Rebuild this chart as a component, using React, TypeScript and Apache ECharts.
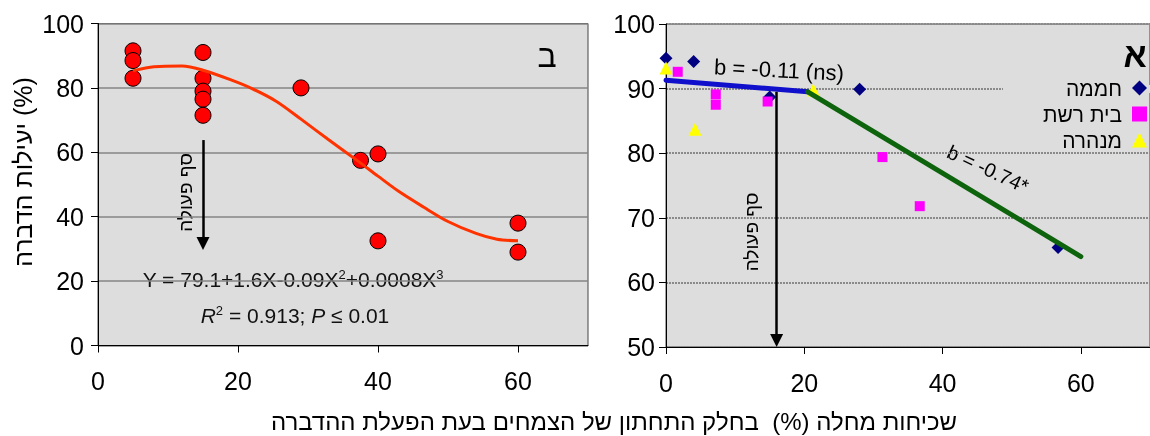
import React, { useEffect, useRef } from "react";
import * as echarts from "echarts";

// ---- Left panel (ב) ----
const leftPointsX = [5, 5, 5, 15, 15, 15, 15, 15, 29, 37.5, 40, 40, 60, 60];
const leftPointsY = [91.5, 88.5, 83, 91, 83, 79, 76.5, 71.5, 80, 57.5, 59.5, 32.5, 38, 29];
const leftCurveX = [5, 8, 12, 15, 19, 22, 25.5, 29, 33, 37, 40, 43, 46.5, 50, 54, 57, 60];
const leftCurveY = [85.3, 86.6, 86.8, 85.5, 82.5, 79.8, 75.8, 70.3, 63.8, 57.5, 52.6, 47.8, 43, 38.5, 34.8, 33, 32.5];
const leftArrowX = 15;
const leftArrowY = [63.8, 31.7];

// ---- Right panel (א) ----
const seriesNames = ["חממה", "בית רשת", "מנהרה"];
const greenhouseX = [0, 4, 15, 28, 56.7];
const greenhouseY = [94.7, 94.2, 88.7, 89.9, 65.4];
const netHouseX = [1.7, 7.2, 7.2, 14.7, 31.3, 36.7];
const netHouseY = [92.6, 89.1, 87.5, 88.0, 79.4, 71.8];
const tunnelX = [0, 4.2, 21.3];
const tunnelY = [93.2, 83.7, 89.8];
const blueTrendX = [0, 20.5];
const blueTrendY = [91.3, 89.5];
const greenTrendX = [20.5, 60];
const greenTrendY = [89.5, 64];
const rightArrowX = 16;
const rightArrowY = [89.5, 51];

const xTicks = [0, 20, 40, 60];

const FONT = "Liberation Sans, Arial, sans-serif";
const zip = (xs: number[], ys: number[]) => xs.map((x, i) => [x, ys[i]]);

export default function App() {
  const ref = useRef<HTMLDivElement>(null);
  useEffect(() => {
    if (!ref.current) return;
    const chart = echarts.init(ref.current, null, { renderer: "svg" });
    const axisCommon = {
      axisLine: { show: true, onZero: false, lineStyle: { color: "#000", width: 1 } },
      axisTick: { show: true, inside: false, length: 7, lineStyle: { color: "#000" } },
    };
    const xAxisBase = (gridIndex: number) => ({
      gridIndex,
      type: "value",
      min: 0,
      max: 70,
      ...axisCommon,
      axisTick: { ...axisCommon.axisTick, customValues: xTicks },
      axisLabel: { customValues: xTicks, fontSize: 25, color: "#000", margin: 23, fontFamily: FONT },
      splitLine: { show: false },
    });
    const arrowMark = (x: number, ys: number[]) => ({
      silent: true,
      symbol: ["none", "triangle"],
      symbolSize: 13,
      label: { show: false },
      lineStyle: { color: "#000", width: 2.5, type: "solid" },
      data: [[{ coord: [x, ys[0]] }, { coord: [x, ys[1]] }]],
    });
    chart.setOption({
      animation: false,
      textStyle: { fontFamily: FONT },
      grid: [
        { left: 98, top: 23.5, width: 490, height: 322, show: true, backgroundColor: "#dddddd", borderColor: "#444", borderWidth: 1 },
        { left: 666, top: 24, width: 496, height: 323, show: true, backgroundColor: "#dddddd", borderColor: "#444", borderWidth: 1 },
      ],
      xAxis: [xAxisBase(0), xAxisBase(1)],
      yAxis: [
        {
          gridIndex: 0, type: "value", min: 0, max: 100, interval: 20,
          ...axisCommon,
          axisLabel: { fontSize: 25, color: "#000", margin: 14, fontFamily: FONT },
          splitLine: { show: true, lineStyle: { color: "#858585", width: 1.5 } },
        },
        {
          gridIndex: 1, type: "value", min: 50, max: 100, interval: 10,
          ...axisCommon,
          axisLabel: { fontSize: 25, color: "#000", margin: 11, fontFamily: FONT },
          splitLine: { show: true, lineStyle: { color: "#8a8a8a", width: 2, type: [2, 1] } },
        },
      ],
      legend: {
        show: true,
        orient: "vertical",
        right: 0,
        top: 77,
        align: "right",
        padding: [0, 3, 0, 0],
        itemWidth: 15,
        itemHeight: 15,
        itemGap: 4,
        textStyle: { fontSize: 21, lineHeight: 22, color: "#000", fontFamily: FONT, padding: [0, 5, 0, 0] },
        data: seriesNames,
      },
      series: [
        {
          type: "scatter", xAxisIndex: 0, yAxisIndex: 0, z: 2,
          symbol: "circle", symbolSize: 16,
          itemStyle: { color: "#ff0000", borderColor: "#000", borderWidth: 1, opacity: 1 },
          data: zip(leftPointsX, leftPointsY),
          markLine: arrowMark(leftArrowX, leftArrowY),
        },
        {
          type: "line", xAxisIndex: 0, yAxisIndex: 0, z: 3, smooth: 0.3,
          showSymbol: false, symbol: "none",
          lineStyle: { color: "#ff3300", width: 3 },
          data: zip(leftCurveX, leftCurveY),
        },
        {
          name: seriesNames[0], type: "scatter", xAxisIndex: 1, yAxisIndex: 1,
          symbol: "diamond", symbolSize: 13,
          itemStyle: { color: "#000080", opacity: 1 },
          data: zip(greenhouseX, greenhouseY),
        },
        {
          name: seriesNames[1], type: "scatter", xAxisIndex: 1, yAxisIndex: 1,
          symbol: "rect", symbolSize: 10,
          itemStyle: { color: "#ff00ff", opacity: 1 },
          data: zip(netHouseX, netHouseY),
        },
        {
          name: seriesNames[2], type: "scatter", xAxisIndex: 1, yAxisIndex: 1,
          symbol: "triangle", symbolSize: 13,
          itemStyle: { color: "#ffff00", opacity: 1 },
          data: zip(tunnelX, tunnelY),
          markLine: arrowMark(rightArrowX, rightArrowY),
        },
        {
          type: "line", xAxisIndex: 1, yAxisIndex: 1, z: 4,
          showSymbol: false, symbol: "none",
          lineStyle: { color: "#1010cc", width: 5, cap: "round" },
          data: zip(blueTrendX, blueTrendY),
        },
        {
          type: "line", xAxisIndex: 1, yAxisIndex: 1, z: 4,
          showSymbol: false, symbol: "none",
          lineStyle: { color: "#0d640d", width: 5, cap: "round" },
          data: zip(greenTrendX, greenTrendY),
        },
      ],
      graphic: [
        { type: "rect", z: 1, silent: true, shape: { x: 1003, y: 85, width: 150, height: 8 }, style: { fill: "#dddddd" } },
        { type: "text", x: 547, y: 56, style: { text: "ב", fontSize: 32, fontFamily: FONT, fill: "#000", align: "center", verticalAlign: "middle" } },
        { type: "text", x: 1135, y: 55, style: { text: "א", fontSize: 34, fontWeight: "bold", fontFamily: FONT, fill: "#000", align: "center", verticalAlign: "middle" } },
        {
          type: "text", x: 293, y: 279,
          style: {
            text: "Y = 79.1+1.6X-0.09X{sup|2}+0.0008X{sup|3}",
            fontSize: 21, fontFamily: FONT, fill: "#111", align: "center", verticalAlign: "middle",
            rich: { sup: { fontSize: 13, verticalAlign: "top", lineHeight: 22, fontFamily: FONT, fill: "#111" } },
          },
        },
        {
          type: "text", x: 295, y: 315,
          style: {
            text: "{i|R}{sup|2} = 0.913; {i|P} {u|≤} 0.01",
            fontSize: 21, fontFamily: FONT, fill: "#111", align: "center", verticalAlign: "middle",
            rich: {
              i: { fontStyle: "italic", fontSize: 21, fontFamily: FONT, fill: "#111" },
              sup: { fontSize: 13, verticalAlign: "top", lineHeight: 22, fontFamily: FONT, fill: "#111" },
              u: { fontSize: 21, fontFamily: FONT, fill: "#111" },
            },
          },
        },
        { type: "text", x: 185.5, y: 192.5, rotation: Math.PI / 2, style: { text: "סף פעולה", fontSize: 19, fontFamily: FONT, fill: "#000", align: "center", verticalAlign: "middle" } },
        { type: "text", x: 751.7, y: 232, rotation: Math.PI / 2, style: { text: "סף פעולה", fontSize: 19, fontFamily: FONT, fill: "#000", align: "center", verticalAlign: "middle" } },
        { type: "text", x: 779, y: 70, rotation: -0.05, style: { text: "b = -0.11 (ns)", fontSize: 22, fontFamily: FONT, fill: "#000", align: "center", verticalAlign: "middle" } },
        { type: "text", x: 988, y: 169, rotation: -0.436, style: { text: "b = -0.74*", fontSize: 20, fontFamily: FONT, fill: "#000", align: "center", verticalAlign: "middle" } },
        { type: "text", x: 22.5, y: 172, rotation: Math.PI / 2, style: { text: "יעילות הדברה (%)", fontSize: 25, fontFamily: FONT, fill: "#000", align: "center", verticalAlign: "middle" } },
        { type: "text", x: 614, y: 421, style: { text: "שכיחות מחלה (%)  בחלק התחתון של הצמחים בעת הפעלת ההדברה", fontSize: 24, fontFamily: FONT, fill: "#000", align: "center", verticalAlign: "middle" } },
      ],
    });
    return () => chart.dispose();
  }, []);
  return <div ref={ref} style={{ position: "fixed", left: 0, top: 0, width: 1150, height: 436 }} />;
}
